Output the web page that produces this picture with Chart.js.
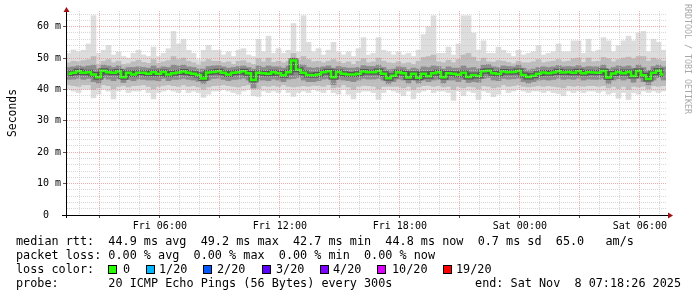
<!DOCTYPE html>
<html>
<head>
<meta charset="utf-8">
<script src="https://cdn.jsdelivr.net/npm/chart.js@4.4.1/dist/chart.umd.min.js"></script>
<style>
  body { margin: 0; background: #fff; }
  #wrap { position: relative; width: 697px; height: 297px; overflow: hidden; background: #fff; }
  #wrap canvas { position: absolute; left: 0; top: 0; }
  .txt { position: absolute; left: 16px; font: 11.8px "DejaVu Sans Mono", monospace; line-height: 14px; white-space: pre; color: #000; }
  .sq { position: absolute; top: 265px; width: 9px; height: 9px; box-sizing: border-box; border: 1px solid #000; }
  .mark { position: absolute; left: 683px; top: 4px; font: 8.3px "DejaVu Sans Mono", monospace; color: #a8a8a8; writing-mode: vertical-rl; white-space: pre; }
</style>
</head>
<body>
<div id="wrap">
  <canvas id="smoke" width="697" height="240"></canvas>
  <div class="mark">RRDTOOL / TOBI OETIKER</div>
  <div class="txt" style="top:234px">median rtt:  44.9 ms avg  49.2 ms max  42.7 ms min  44.8 ms now  0.7 ms sd  65.0   am/s</div>
  <div class="txt" style="top:248px">packet loss: 0.00 % avg  0.00 % max  0.00 % min  0.00 % now</div>
  <div class="txt" style="top:262px">loss color:</div>
  <div class="sq" style="left:108px;background:#26ff00"></div><div class="txt" style="top:262px;left:123px">0</div>
  <div class="sq" style="left:146px;background:#00b8ff"></div><div class="txt" style="top:262px;left:159px">1/20</div>
  <div class="sq" style="left:203px;background:#0059ff"></div><div class="txt" style="top:262px;left:217px">2/20</div>
  <div class="sq" style="left:262px;background:#5e00ff"></div><div class="txt" style="top:262px;left:276px">3/20</div>
  <div class="sq" style="left:320px;background:#7e00ff"></div><div class="txt" style="top:262px;left:333px">4/20</div>
  <div class="sq" style="left:377px;background:#dd00ff"></div><div class="txt" style="top:262px;left:392px">10/20</div>
  <div class="sq" style="left:443px;background:#ff0000"></div><div class="txt" style="top:262px;left:456px">19/20</div>
  <div class="txt" style="top:276px">probe:       20 ICMP Echo Pings (56 Bytes) every 300s</div>
  <div class="txt" style="top:276px;left:auto;right:16px">end: Sat Nov  8 07:18:26 2025</div>
</div>
<script>
/* --------------- Time axis (hours since Fri 00:00) --------------------- */
const START_H = 1 + 18 / 60 + 26 / 3600; // Fri 01:18:26
const SPAN_H = 30;
const STEP_H = 0.25;
const tickHours = [6, 12, 18, 24, 30];
const tickLabels = ["Fri 06:00", "Fri 12:00", "Fri 18:00", "Sat 00:00", "Sat 06:00"];
const gridHours = [2, 3, 4, 5, 6, 7, 8, 9, 10, 11, 12, 13, 14, 15, 16, 17, 18, 19, 20, 21, 22, 23, 24, 25, 26, 27, 28, 29, 30, 31];
const yTickValues = [0, 10, 20, 30, 40, 50, 60];
const yTickLabels = ["0  ", "10 m", "20 m", "30 m", "40 m", "50 m", "60 m"];
const yGrid = [0, 2, 4, 6, 8, 10, 12, 14, 16, 18, 20, 22, 24, 26, 28, 30, 32, 34, 36, 38, 40, 42, 44, 46, 48, 50, 52, 54, 56, 58, 60, 62, 64];

/* --------------- Median rtt (ms), one per 15 min --------------------- */
const median = [
  45.0, 45.3, 45.8, 45.3, 45.5, 44.8, 43.9, 46.0, 45.5, 45.3, 45.7, 43.9, 45.3, 44.8, 45.3, 45.3, 45.0, 45.5, 45.0, 45.6, 44.8, 45.2, 45.4, 45.7, 45.3, 45.0, 44.6, 43.5, 45.4, 45.6,
  45.8, 45.3, 44.8, 45.3, 45.5, 45.8, 45.2, 43.0, 45.3, 45.2, 45.0, 45.5, 45.2, 44.5, 45.5, 49.2, 46.3, 45.3, 44.6, 44.5, 44.8, 45.5, 45.8, 43.9, 45.6, 45.0, 44.8, 44.8, 45.0, 45.7,
  45.5, 45.5, 45.9, 45.0, 43.6, 44.4, 45.5, 45.2, 43.8, 45.0, 43.7, 45.0, 44.2, 45.2, 45.5, 43.9, 45.2, 45.0, 44.7, 45.3, 44.0, 44.6, 44.3, 45.8, 46.0, 45.2, 44.9, 45.7, 45.5, 45.6,
  45.9, 44.6, 44.0, 44.4, 45.0, 45.4, 45.2, 45.4, 45.8, 45.4, 45.6, 45.3, 45.8, 45.2, 45.5, 45.4, 45.3, 45.9, 43.8, 45.1, 45.6, 45.2, 45.6, 44.3, 45.9, 44.5, 43.3, 45.3, 46.0, 44.8
];
/* --------------- Smoke: outer (min / max ping) --------------------- */
const outerHi = [
  51.5, 52.6, 52.0, 52.5, 54.5, 63.5, 51.5, 52.5, 54.0, 51.0, 52.0, 50.5, 50.0, 51.5, 52.5, 51.0, 50.5, 53.5, 50.5, 51.5, 53.0, 58.5, 54.5, 56.0, 52.5, 51.5, 49.5, 52.5, 54.0, 52.5,
  52.5, 51.0, 52.0, 50.5, 52.5, 53.0, 51.0, 50.5, 56.0, 52.0, 57.0, 51.5, 53.0, 51.5, 52.5, 61.0, 52.0, 63.5, 55.0, 52.0, 53.0, 51.0, 52.5, 55.0, 52.0, 51.0, 52.0, 50.5, 53.0, 56.5,
  51.0, 51.5, 56.5, 52.5, 52.0, 51.0, 52.0, 51.0, 51.5, 50.5, 52.5, 57.5, 60.0, 63.5, 51.5, 51.5, 53.5, 51.0, 54.5, 63.5, 63.5, 58.0, 52.5, 55.5, 51.5, 51.5, 53.5, 52.5, 51.5, 50.5,
  52.5, 51.0, 51.5, 52.0, 54.0, 51.0, 51.5, 52.0, 54.5, 52.0, 52.0, 55.5, 55.5, 51.5, 56.0, 52.0, 52.5, 56.5, 55.5, 52.0, 54.0, 55.5, 57.0, 55.5, 58.0, 58.5, 52.0, 56.0, 55.0, 52.5
];
const outerLo = [
  40.0, 39.5, 39.0, 40.0, 40.0, 37.3, 38.5, 40.0, 39.5, 37.0, 39.5, 40.0, 39.0, 39.5, 39.5, 40.0, 39.0, 37.0, 39.0, 39.5, 40.0, 39.5, 39.0, 40.0, 39.0, 39.5, 39.0, 37.5, 38.5, 39.5,
  39.5, 40.0, 39.5, 39.0, 38.5, 39.5, 40.0, 38.0, 37.8, 39.5, 39.0, 39.5, 39.0, 40.0, 39.0, 37.8, 39.0, 39.5, 39.0, 40.0, 39.5, 39.0, 40.0, 39.0, 38.5, 40.0, 38.5, 37.0, 39.0, 39.5,
  39.5, 39.0, 36.8, 39.0, 40.0, 39.5, 39.0, 38.0, 39.5, 37.0, 39.0, 39.5, 40.0, 39.0, 39.5, 39.5, 39.0, 36.5, 39.5, 38.0, 39.5, 39.0, 36.8, 39.5, 39.0, 37.7, 38.5, 40.0, 39.0, 39.5,
  40.0, 39.5, 39.0, 39.5, 39.5, 39.0, 39.5, 39.0, 38.7, 38.0, 39.5, 39.0, 39.5, 39.0, 39.5, 39.5, 39.0, 39.5, 38.5, 39.0, 37.2, 39.0, 36.8, 39.0, 38.5, 39.5, 39.0, 39.5, 39.0, 39.5
];
/* --------------- Smoke: middle pings --------------------- */
const midHi = [
  48.5, 49.0, 48.8, 49.2, 49.5, 50.5, 48.0, 49.0, 49.5, 48.5, 49.0, 48.0, 48.2, 48.8, 49.3, 48.6, 48.3, 49.5, 48.3, 48.8, 49.2, 50.5, 49.5, 50.0, 49.0, 48.5, 47.8, 48.8, 49.5, 49.0,
  49.0, 48.5, 48.8, 48.0, 49.0, 49.2, 48.5, 48.0, 49.8, 48.8, 50.0, 48.6, 49.0, 48.5, 49.0, 51.5, 49.3, 50.5, 49.5, 48.8, 49.0, 48.5, 49.0, 49.5, 48.8, 48.3, 48.8, 48.0, 49.0, 49.8,
  48.5, 48.8, 50.0, 49.0, 48.5, 48.3, 48.8, 48.2, 48.5, 48.0, 49.0, 50.2, 50.5, 51.0, 48.8, 48.5, 49.3, 48.5, 49.5, 51.0, 51.5, 50.3, 49.0, 50.0, 48.8, 48.7, 49.2, 49.0, 48.6, 48.2,
  49.0, 48.5, 48.5, 48.8, 49.5, 48.5, 48.8, 49.0, 49.5, 48.8, 49.0, 49.8, 50.0, 48.6, 50.0, 48.8, 49.0, 50.2, 49.8, 48.8, 49.5, 50.0, 50.3, 49.8, 50.5, 50.5, 49.0, 50.0, 49.5, 49.0
];
const midLo = [
  41.5, 41.2, 41.0, 41.5, 41.5, 40.0, 40.5, 41.5, 41.2, 40.2, 41.0, 41.3, 40.8, 41.2, 41.3, 41.5, 41.0, 40.2, 41.0, 41.3, 41.5, 41.2, 41.0, 41.5, 41.0, 41.2, 40.8, 40.0, 40.8, 41.2,
  41.3, 41.5, 41.2, 41.0, 40.8, 41.2, 41.5, 40.2, 40.3, 41.2, 41.0, 41.3, 41.0, 41.5, 41.0, 40.8, 41.0, 41.2, 41.0, 41.3, 41.2, 41.0, 41.5, 40.5, 40.8, 41.5, 40.8, 40.0, 41.0, 41.3,
  41.2, 41.0, 40.2, 41.0, 41.0, 41.0, 41.0, 40.5, 41.0, 40.0, 40.8, 41.2, 41.3, 41.0, 41.2, 40.8, 41.0, 40.0, 41.0, 40.5, 41.0, 40.8, 40.2, 41.2, 41.0, 40.5, 40.8, 41.5, 41.0, 41.2,
  41.5, 41.0, 40.8, 41.0, 41.2, 41.0, 41.2, 41.0, 40.8, 40.5, 41.2, 41.0, 41.2, 41.0, 41.2, 41.2, 41.0, 41.2, 40.5, 41.0, 40.3, 41.0, 40.0, 41.0, 40.8, 41.0, 40.2, 41.2, 41.0, 41.2
];
/* --------------- Smoke: inner pings --------------------- */
const darkHi = [
  47.0, 47.2, 47.5, 47.2, 47.5, 47.8, 46.5, 47.8, 47.5, 47.0, 47.5, 46.5, 47.0, 47.0, 47.2, 47.0, 46.8, 47.5, 46.8, 47.2, 47.0, 47.8, 47.5, 47.8, 47.2, 47.0, 46.5, 46.5, 47.3, 47.5,
  47.6, 47.2, 46.8, 47.0, 47.3, 47.5, 47.0, 46.5, 47.5, 47.0, 47.5, 47.2, 47.2, 46.8, 47.5, 50.0, 48.0, 47.8, 47.0, 46.8, 47.0, 47.2, 47.5, 46.8, 47.3, 47.0, 46.8, 46.8, 47.0, 47.6,
  47.3, 47.3, 47.8, 47.0, 46.3, 46.5, 47.2, 47.0, 46.3, 46.8, 46.5, 47.2, 47.0, 47.5, 47.3, 46.5, 47.2, 46.8, 46.8, 47.5, 46.8, 47.0, 46.5, 47.8, 48.0, 47.2, 47.0, 47.5, 47.3, 47.2,
  47.8, 46.8, 46.2, 46.5, 47.0, 47.2, 47.0, 47.2, 47.6, 47.2, 47.3, 47.2, 47.6, 47.0, 47.3, 47.2, 47.2, 47.8, 46.5, 47.0, 47.5, 47.2, 47.5, 46.8, 47.8, 47.0, 46.0, 47.3, 47.8, 47.2
];
const darkLo = [
  43.2, 43.3, 43.6, 43.2, 43.5, 42.5, 42.0, 43.8, 43.3, 42.8, 43.5, 42.2, 43.2, 42.8, 43.3, 43.2, 43.0, 43.0, 42.8, 43.5, 42.8, 43.2, 43.2, 43.5, 43.2, 43.0, 42.6, 41.8, 43.0, 43.5,
  43.6, 43.2, 42.8, 43.2, 43.3, 43.6, 43.0, 40.5, 43.0, 43.0, 42.8, 43.3, 43.0, 42.5, 43.3, 43.5, 43.8, 43.0, 42.5, 42.5, 42.8, 43.3, 43.5, 41.5, 43.3, 43.0, 42.8, 42.5, 43.0, 43.5,
  43.3, 43.3, 43.5, 43.0, 41.8, 42.5, 43.3, 43.0, 42.0, 43.0, 42.0, 43.0, 42.5, 43.0, 43.3, 42.0, 43.0, 43.0, 42.5, 43.2, 42.2, 42.5, 42.3, 43.5, 43.8, 43.0, 42.8, 43.5, 43.3, 43.4,
  43.6, 42.5, 42.0, 42.5, 43.0, 43.2, 43.0, 43.2, 43.6, 43.2, 43.4, 43.2, 43.6, 43.0, 43.3, 43.2, 43.2, 43.6, 41.8, 43.0, 43.4, 43.0, 43.4, 42.3, 43.6, 42.5, 41.5, 43.0, 43.8, 43.0
];

/* --------------- Build points --------------------- */
const times = median.map((_, i) => START_H + (i + 0.5) * STEP_H);
const band = (lo, hi) => times.map((t, i) => ({ x: t, y: [lo[i], hi[i]] }));
const line = vals => times.map((t, i) => ({ x: t, y: vals[i] }));

const MINOR = "rgba(200,200,200,0.7)";
const MAJOR = "rgba(230,140,140,0.7)";

const barStyle = { type: "bar", grouped: false, barPercentage: 1, categoryPercentage: 1, borderWidth: 0 };

/* --------------- Axis arrows --------------------- */
const axisArrows = {
  id: "axisArrows",
  afterDraw(chart) {
    const { ctx, chartArea: a } = chart;
    ctx.save();
    ctx.strokeStyle = "#000";
    ctx.lineWidth = 1;
    ctx.beginPath();
    ctx.moveTo(a.left - 4, a.bottom + 0.5);
    ctx.lineTo(a.right + 3, a.bottom + 0.5);
    ctx.moveTo(a.left + 0.5, a.bottom + 3);
    ctx.lineTo(a.left + 0.5, a.top - 2);
    ctx.stroke();
    ctx.fillStyle = "#a01010";
    ctx.beginPath();
    ctx.moveTo(a.left + 0.5, a.top - 4);
    ctx.lineTo(a.left - 2.5, a.top + 1);
    ctx.lineTo(a.left + 3.5, a.top + 1);
    ctx.fill();
    ctx.beginPath();
    ctx.moveTo(a.right + 7, a.bottom + 0.5);
    ctx.lineTo(a.right + 2, a.bottom - 2.5);
    ctx.lineTo(a.right + 2, a.bottom + 3.5);
    ctx.fill();
    ctx.restore();
  }
};

Chart.defaults.font.family = "'DejaVu Sans Mono', monospace";
Chart.defaults.color = "#000";

new Chart(document.getElementById("smoke"), {
  type: "bar",
  plugins: [axisArrows],
  data: {
    datasets: [
      { type: "line", data: line(median), borderColor: "#26ff00", borderWidth: 2.5, pointRadius: 0, stepped: "middle", fill: false },
      { type: "line", data: line(median), borderColor: "rgba(50,50,50,0.6)", borderWidth: 5, pointRadius: 0, stepped: "middle", fill: false },
      { ...barStyle, data: band(darkLo, darkHi), backgroundColor: "#8c8c8c" },
      { ...barStyle, data: band(midLo, midHi), backgroundColor: "#bcbcbc" },
      { ...barStyle, data: band(outerLo, outerHi), backgroundColor: "#dddddd" }
    ]
  },
  options: {
    responsive: false,
    animation: false,
    layout: { padding: { left: 0, right: 31, top: 11, bottom: 0 } },
    plugins: { legend: { display: false }, tooltip: { enabled: false } },
    scales: {
      x: {
        type: "linear",
        min: START_H,
        max: START_H + SPAN_H,
        offset: false,
        afterBuildTicks: s => { s.ticks = gridHours.map(v => ({ value: v })); },
        afterFit: s => { s.height = 25; },
        grid: {
          offset: false,
          z: 1,
          color: c => (c.tick && c.tick.value % 3 === 0 ? MAJOR : MINOR),
          tickLength: 3,
          tickColor: c => (c.tick && c.tick.value % 3 === 0 ? "#555" : "rgba(0,0,0,0)")
        },
        border: { color: "#000", width: 1, dash: [1, 1], z: 2 },
        ticks: {
          autoSkip: false,
          maxRotation: 0,
          padding: 2,
          font: { size: 10 },
          callback: v => { const i = tickHours.indexOf(v); return i >= 0 ? tickLabels[i] : ""; }
        }
      },
      y: {
        min: 0,
        max: 65,
        afterBuildTicks: s => { s.ticks = yGrid.map(v => ({ value: v })); },
        afterFit: s => { s.width = 66; },
        grid: {
          z: 1,
          color: c => (c.tick && c.tick.value % 10 === 0 ? MAJOR : MINOR),
          tickLength: 3,
          tickColor: c => (c.tick && c.tick.value % 10 === 0 ? "#555" : "rgba(0,0,0,0)")
        },
        border: { color: "#000", width: 1, dash: [1, 1], z: 2 },
        ticks: {
          autoSkip: false,
          padding: 2,
          font: { size: 10 },
          callback: v => { const i = yTickValues.indexOf(v); return i >= 0 ? yTickLabels[i] : ""; }
        },
        title: { display: true, text: "Seconds", font: { size: 11.4 }, padding: { top: 6, bottom: 0 } }
      }
    }
  }
});
</script>
</body>
</html>
